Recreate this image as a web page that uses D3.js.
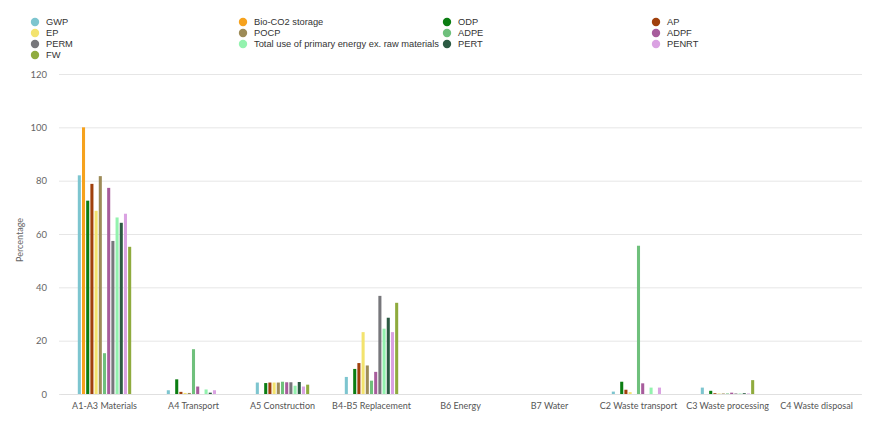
<!DOCTYPE html>
<html>
<head>
<meta charset="utf-8">
<script src="https://cdn.jsdelivr.net/npm/d3@7/dist/d3.min.js"></script>
<style>
  html, body { margin: 0; padding: 0; background: #fff; }
  svg { display: block; }
</style>
</head>
<body>
<svg id="chart" width="874" height="422"></svg>
<script>
const categories = ["A1-A3 Materials", "A4 Transport", "A5 Construction", "B4-B5 Replacement", "B6 Energy", "B7 Water", "C2 Waste transport", "C3 Waste processing", "C4 Waste disposal"];
const seriesNames = ["GWP", "Bio-CO2 storage", "ODP", "AP", "EP", "POCP", "ADPE", "ADPF", "PERM", "Total use of primary energy ex. raw materials", "PERT", "PENRT", "FW"];
const seriesColors = ["#7dc5cf", "#f6a21d", "#0b7d12", "#a0400c", "#f3e36e", "#9d8b57", "#6fc07c", "#a75c9c", "#77777b", "#93f2ae", "#2c5a43", "#daa2e2", "#8fab3e"];
// values per series, one per category
const GWP   = [82, 1.4, 4.3, 6.4, 0, 0, 0.9, 2.4, 0];
const BIO   = [100, 0, 0, 0, 0, 0, 0, 0, 0];
const ODP   = [72.5, 5.5, 4.1, 9.4, 0, 0, 4.6, 1.2, 0];
const AP    = [78.8, 0.8, 4.3, 11.6, 0, 0, 1.6, 0.3, 0];
const EP    = [68.7, 0.4, 4.3, 23.2, 0, 0, 0.7, 0.2, 0];
const POCP  = [81.7, 0.4, 4.3, 10.7, 0, 0, 0, 0.2, 0];
const ADPE  = [15.3, 16.8, 4.6, 5.0, 0, 0, 55.6, 0.2, 0];
const ADPF  = [77.3, 2.8, 4.4, 8.3, 0, 0, 4.0, 0.5, 0];
const PERM  = [57.4, 0, 4.4, 36.8, 0, 0, 0, 0.2, 0];
const TOTAL = [66.2, 1.7, 3.1, 24.5, 0, 0, 2.4, 0.2, 0];
const PERT  = [64.2, 0.5, 4.5, 28.6, 0, 0, 0, 0.3, 0];
const PENRT = [67.6, 1.4, 2.8, 23.2, 0, 0, 2.4, 0.2, 0];
const FW    = [55.2, 0, 3.5, 34.2, 0, 0, 0, 5.2, 0];
const seriesValues = [GWP, BIO, ODP, AP, EP, POCP, ADPE, ADPF, PERM, TOTAL, PERT, PENRT, FW];
const yTicks = [0, 20, 40, 60, 80, 100, 120];
const yTitle = "Percentage";

const svg = d3.select("#chart");
const plot = { left: 60, right: 861, top: 74, bottom: 394 };

const x0 = d3.scaleBand().domain(categories).range([plot.left, plot.right]).padding(0);
const bw = x0.bandwidth();
const x1 = d3.scaleBand().domain(seriesNames).range([bw * 0.2, bw * 0.8]).paddingInner(0.27).paddingOuter(0);
const y = d3.scaleLinear().domain([0, 120]).range([plot.bottom, plot.top]);
const color = d3.scaleOrdinal().domain(seriesNames).range(seriesColors);

// grid lines
const yAxis = d3.axisLeft(y).tickValues(yTicks).tickSize(-(plot.right - plot.left + 2)).tickPadding(12);
const gy = svg.append("g").attr("transform", `translate(${plot.left - 1},0)`).call(yAxis);
gy.select(".domain").remove();
gy.selectAll(".tick line").attr("stroke", "#e6e6e6").attr("stroke-width", 1);
gy.selectAll(".tick text").attr("fill", "#666").style("font-family", "Lato, 'Open Sans', sans-serif").style("font-size", "9.5px");

// x axis
const xAxis = d3.axisBottom(x0).tickSize(0).tickPadding(9);
const gx = svg.append("g").attr("transform", `translate(0,${plot.bottom})`).call(xAxis);
gx.select(".domain").attr("stroke", "#e0e0e0");
gx.selectAll(".tick text").attr("fill", "#555").style("font-family", "Lato, 'Open Sans', sans-serif").style("font-size", "9px");

// y title
svg.append("text")
  .attr("transform", `translate(23,${(plot.top + plot.bottom) / 2 + 6}) rotate(-90)`)
  .attr("text-anchor", "middle")
  .attr("fill", "#666")
  .style("font-family", "Lato, 'Open Sans', sans-serif")
  .style("font-size", "9px")
  .text(yTitle);

// bars
const groups = svg.append("g").selectAll("g")
  .data(categories)
  .join("g")
  .attr("transform", d => `translate(${x0(d)},0)`);

groups.selectAll("rect")
  .data((c, ci) => seriesNames.map((s, si) => ({ s, v: seriesValues[si][ci] })))
  .join("rect")
  .attr("x", d => x1(d.s))
  .attr("width", x1.bandwidth())
  .attr("y", d => y(d.v))
  .attr("height", d => y(0) - y(d.v))
  .attr("fill", d => color(d.s));

// legend (4 columns, row-major)
const legendCols = [35, 243, 447, 656];
const legendRows = [22, 33, 44, 55];
const legend = svg.append("g");
seriesNames.forEach((s, i) => {
  const cx = legendCols[i % 4];
  const cy = legendRows[Math.floor(i / 4)];
  legend.append("circle").attr("cx", cx).attr("cy", cy).attr("r", 4.2).attr("fill", color(s));
  legend.append("text")
    .attr("x", cx + 11).attr("y", cy + 3.4)
    .attr("fill", "#333")
    .style("font-family", "'Liberation Sans', Arial, sans-serif")
    .style("font-size", "9.3px")
    .text(s);
});
</script>
</body>
</html>
